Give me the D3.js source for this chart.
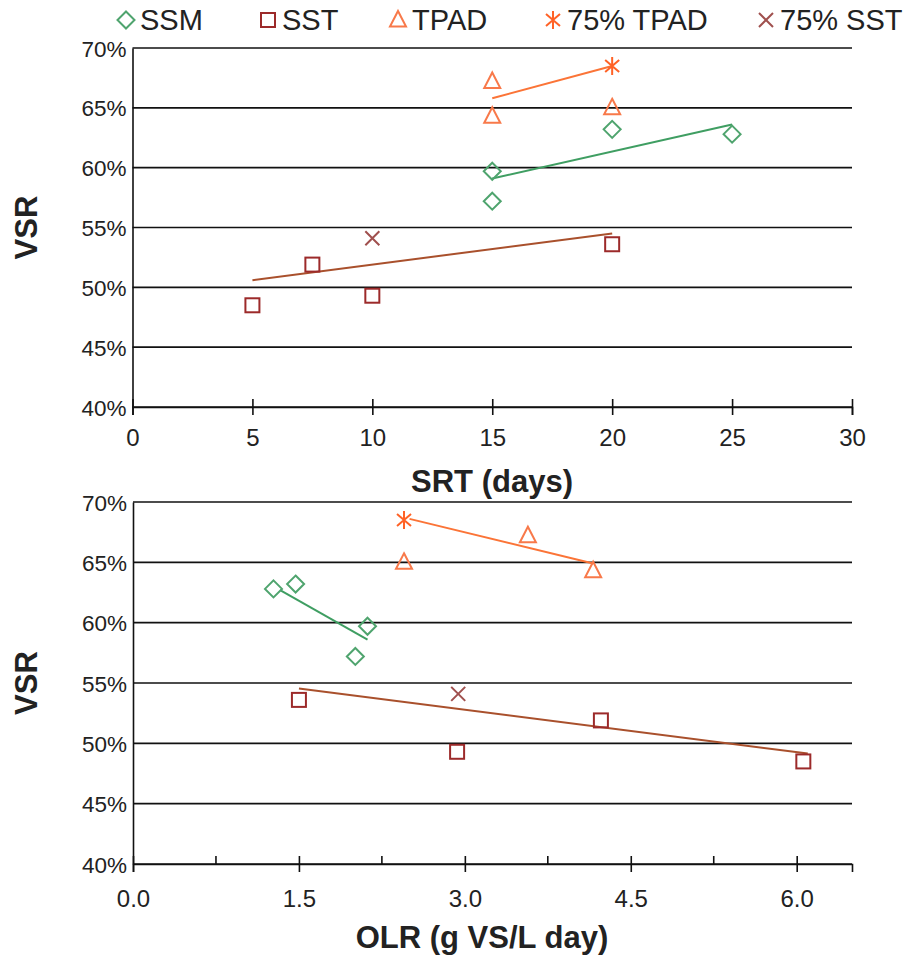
<!DOCTYPE html>
<html>
<head>
<meta charset="utf-8">
<script src="https://cdn.jsdelivr.net/npm/d3@7"></script>
<style>
  body { margin: 0; background: #fff; }
  svg text { font-family: "Liberation Sans", Arial, sans-serif; fill: #222; }
</style>
</head>
<body>
<svg id="chart" width="913" height="961"></svg>
<script>
// VSR (%) per series, same runs shown against SRT (top) and OLR (bottom)
const vsrSSM = [57.2, 59.7, 63.2, 62.8];
const srtSSM = [15, 15, 20, 25];
const olrSSM = [2.01, 2.12, 1.47, 1.27];

const vsrSST = [48.5, 51.9, 49.3, 53.6];
const srtSST = [5, 7.5, 10, 20];
const olrSST = [6.06, 4.23, 2.93, 1.5];

const vsrTPAD = [67.2, 64.3, 65.0];
const srtTPAD = [15, 15, 20];
const olrTPAD = [3.57, 4.16, 2.45];

const vsr75TPAD = [68.5];
const srt75TPAD = [20];
const olr75TPAD = [2.45];

const vsr75SST = [54.1];
const srt75SST = [10];
const olr75SST = [2.94];

// trend lines [x0, y0, x1, y1]
const trendSRT = { SSM: [15, 59.1, 25, 63.6], TPAD: [15, 65.8, 20, 68.5], SST: [5, 50.6, 20, 54.5] };
const trendOLR = { SSM: [1.33, 62.7, 2.12, 58.6], TPAD: [2.5, 68.6, 4.16, 64.9], SST: [1.5, 54.55, 6.1, 49.15] };

const yTicks = [40, 45, 50, 55, 60, 65, 70];
const srtTicks = [0, 5, 10, 15, 20, 25, 30];
const olrTicks = [0, 1.5, 3, 4.5, 6];
const olrMinor = [0.75, 2.25, 3.75, 5.25];

const colors = { SSM: "#4fa46e", SST: "#9c2a2a", TPAD: "#f8794a", T75: "#ff6226", S75: "#a0504e" };
const trendColors = { SSM: "#3f9e62", SST: "#a9502c", TPAD: "#fb7437" };

const svg = d3.select("#chart");

function marker(g, type, x, y, color) {
  const s = g.append("g").attr("transform", "translate(" + x + "," + y + ")")
    .attr("fill", "none").attr("stroke", color).attr("stroke-width", 2);
  if (type === "SSM") s.append("path").attr("d", "M0,-8.5L8.5,0L0,8.5L-8.5,0Z");
  if (type === "SST") s.append("rect").attr("x", -7).attr("y", -7).attr("width", 14).attr("height", 14);
  if (type === "TPAD") s.append("path").attr("d", "M0,-9L8,6.5L-8,6.5Z");
  if (type === "T75") s.append("path").attr("d", "M0,-9V9M-7,-6L7,6M-7,6L7,-6");
  if (type === "S75") s.append("path").attr("d", "M-7,-7L7,7M-7,7L7,-7");
}

function panel(opts) {
  const x = d3.scaleLinear().domain(opts.xDomain).range([opts.left, opts.right]);
  const y = d3.scaleLinear().domain([40, 70]).range([opts.bottom, opts.top]);
  const g = svg.append("g");

  g.append("g").selectAll("line").data(yTicks).enter().append("line")
    .attr("x1", opts.left).attr("x2", opts.right)
    .attr("y1", d => y(d)).attr("y2", d => y(d))
    .attr("stroke", "#111").attr("stroke-width", 1.6);

  const ya = g.append("g").attr("transform", "translate(" + opts.left + ",0)")
    .call(d3.axisLeft(y).tickValues(yTicks).tickSize(0).tickPadding(6).tickFormat(d => d + "%"));
  ya.select(".domain").attr("stroke", "#111").attr("stroke-width", 1.6);
  ya.selectAll("text").attr("font-size", 22.5).attr("dy", "0.36em");

  const xa = g.append("g").attr("transform", "translate(0," + opts.bottom + ")")
    .call(d3.axisBottom(x).tickValues(opts.xTicks).tickSize(8).tickPadding(opts.pad).tickFormat(opts.fmt));
  xa.select(".domain").attr("stroke", "#111").attr("stroke-width", 1.6);
  xa.selectAll(".tick line").attr("y1", -8).attr("stroke", "#111").attr("stroke-width", 1.6);
  xa.selectAll("text").attr("font-size", 24);

  if (opts.minor) {
    g.append("g").selectAll("line").data(opts.minor).enter().append("line")
      .attr("x1", d => x(d)).attr("x2", d => x(d))
      .attr("y1", opts.bottom - 8).attr("y2", opts.bottom)
      .attr("stroke", "#111").attr("stroke-width", 1.6);
  }

  g.append("text").attr("transform", "translate(37," + y(55) + ") rotate(-90)")
    .attr("text-anchor", "middle").attr("font-size", 31).attr("font-weight", "bold").text("VSR");
  g.append("text").attr("x", opts.titleX).attr("y", opts.titleY)
    .attr("text-anchor", "middle").attr("font-size", 31).attr("font-weight", "bold").text(opts.title);

  Object.keys(opts.trend).forEach(k => {
    const t = opts.trend[k];
    g.append("line").attr("x1", x(t[0])).attr("y1", y(t[1])).attr("x2", x(t[2])).attr("y2", y(t[3]))
      .attr("stroke", trendColors[k]).attr("stroke-width", 2);
  });

  opts.series.forEach(s => {
    s.xs.forEach((xv, i) => marker(g, s.type, x(xv), y(s.ys[i]), colors[s.type]));
  });
}

panel({
  xDomain: [0, 30], left: 132.5, right: 852, top: 48, bottom: 407,
  xTicks: srtTicks, fmt: d3.format("d"), pad: 14,
  title: "SRT (days)", titleX: 492, titleY: 492, trend: trendSRT,
  series: [
    { type: "SST", xs: srtSST, ys: vsrSST },
    { type: "SSM", xs: srtSSM, ys: vsrSSM },
    { type: "TPAD", xs: srtTPAD, ys: vsrTPAD },
    { type: "T75", xs: srt75TPAD, ys: vsr75TPAD },
    { type: "S75", xs: srt75SST, ys: vsr75SST }
  ]
});

panel({
  xDomain: [0, 6.5], left: 133, right: 852, top: 502, bottom: 864,
  xTicks: olrTicks, minor: olrMinor, fmt: d3.format(".1f"), pad: 18,
  title: "OLR (g VS/L day)", titleX: 482, titleY: 948, trend: trendOLR,
  series: [
    { type: "SST", xs: olrSST, ys: vsrSST },
    { type: "SSM", xs: olrSSM, ys: vsrSSM },
    { type: "TPAD", xs: olrTPAD, ys: vsrTPAD },
    { type: "T75", xs: olr75TPAD, ys: vsr75TPAD },
    { type: "S75", xs: olr75SST, ys: vsr75SST }
  ]
});

// legend
const legendItems = [
  { type: "SSM", label: "SSM", x: 126 },
  { type: "SST", label: "SST", x: 268 },
  { type: "TPAD", label: "TPAD", x: 398 },
  { type: "T75", label: "75% TPAD", x: 553 },
  { type: "S75", label: "75% SST", x: 766 }
];
const lg = svg.append("g");
legendItems.forEach(d => {
  marker(lg, d.type, d.x, 20, colors[d.type]);
  lg.append("text").attr("x", d.x + 14).attr("y", 20).attr("dy", "0.36em")
    .attr("font-size", 29).text(d.label);
});
</script>
</body>
</html>
